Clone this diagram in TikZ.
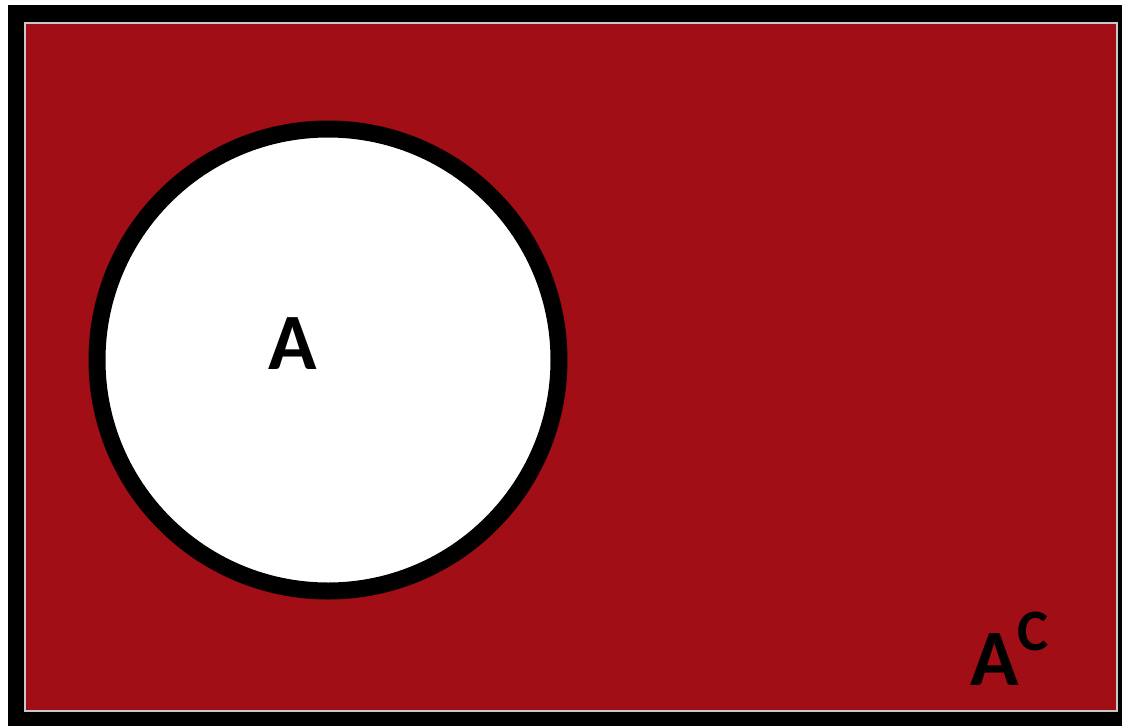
\documentclass[tikz,border=0pt]{standalone}
\usepackage{fontspec}
\setmainfont{Carlito}
\definecolor{setred}{RGB}{162,14,21}
\definecolor{edgegray}{RGB}{200,200,200}
\newcommand{\supsize}{\fontsize{44}{44}\selectfont}
\tikzset{
  lbl/.style={inner sep=0pt, font=\bfseries\fontsize{60}{60}\selectfont, text=black},
  setcircle/.style={draw=black, line width=12.75pt, fill=white}
}
\begin{document}
\begin{tikzpicture}[x=0.75pt,y=-0.75pt]
\useasboundingbox (0,0) rectangle (1122,726);
\fill[white] (0,0) rectangle (1122,726);
\fill[black] (8,5) rectangle (1122,726);
\fill[edgegray] (24,22) rectangle (1118,712);
\fill[setred] (26,24) rectangle (1116,710);
\node[setcircle, circle, minimum size=462*0.75pt, inner sep=0pt] (A) at (328,360) {};
\node[lbl] (la) at (293,344) {A};
\node[lbl, anchor=base west] (lac) at (970,685) {A\kern-1pt\raisebox{26pt}{\supsize C}};
\end{tikzpicture}
\end{document}
